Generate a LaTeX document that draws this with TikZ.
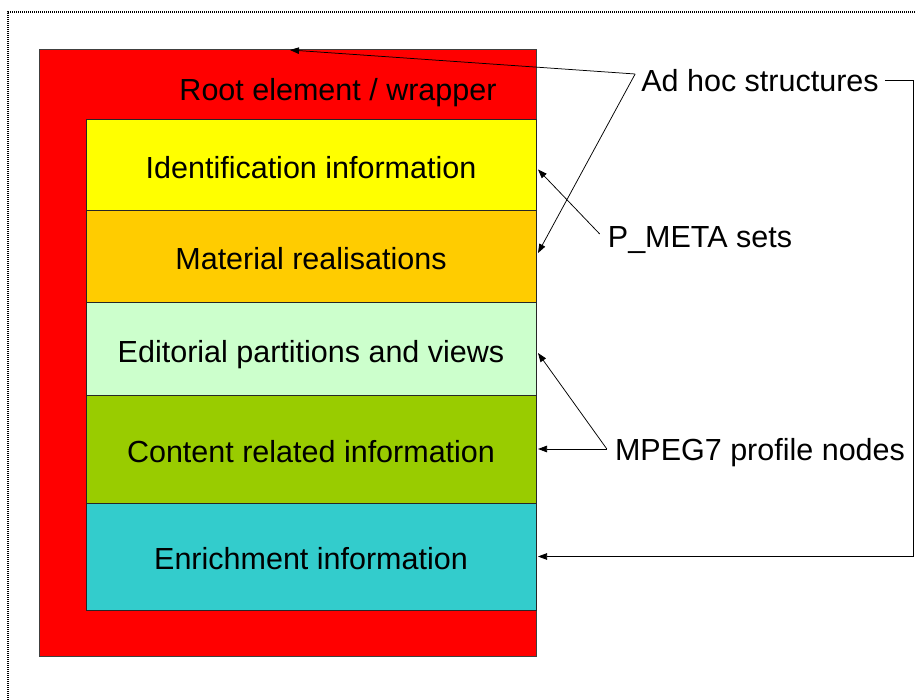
\documentclass[tikz,border=0pt]{standalone}
\usepackage{fontspec}
\setmainfont{Liberation Sans}
\usetikzlibrary{positioning,arrows.meta,calc}

\begin{document}
\begin{tikzpicture}[
  x=1pt, y=-1pt,
  txt/.style={font=\fontsize{30.5}{36}\selectfont, inner sep=3pt},
  layer/.style={draw=black!85, line width=1pt, minimum width=450pt, minimum height=#1, inner sep=0pt, outer sep=0pt, text height=26pt, text depth=0pt, txt},
  arr/.style={-{Triangle[length=9pt,width=6.5pt]}, line width=0.75pt}
]
\useasboundingbox (0,0) rectangle (915,700);
\draw[black, line width=1.5pt, dash pattern=on 1pt off 1pt] (915,12) -- (8,12) -- (8,700);

% wrapper and the stacked layers
\node[draw=black!75, line width=1pt, fill=red, minimum width=497pt, minimum height=606pt, anchor=north west, outer sep=0pt] (root) at (39,50) {};
\node[txt] (roottxt) at (338,93) {Root element / wrapper};

\node[layer=91pt, fill={rgb,255:red,255;green,255;blue,0}, anchor=north west] (ident) at (86,120) {Identification information};
\node[layer=92pt, fill={rgb,255:red,255;green,204;blue,0}, below=0pt of ident] (material) {Material realisations};
\node[layer=92pt, fill={rgb,255:red,204;green,255;blue,204}, below=0pt of material] (editorial) {Editorial partitions and views};
\node[layer=108pt, fill={rgb,255:red,153;green,204;blue,0}, below=0pt of editorial] (content) {Content related information};
\node[layer=107pt, fill={rgb,255:red,51;green,204;blue,204}, below=0pt of content] (enrich) {Enrichment information};

% labels on the right
\node[txt] (adhoc) at (760,81) {Ad hoc structures};
\node[txt] (pmeta) at (700,240) {P\_META sets};
\node[txt] (mpeg) at (760,453) {MPEG7 profile nodes};

\coordinate (adhocpt) at ($(adhoc.west)+(-3,-7)$);
\coordinate (pmetapt) at ($(pmeta.west)+(-5,-6)$);
\coordinate (mpegpt) at ($(mpeg.west)+(-5,-4)$);

\draw[arr] (adhocpt) -- ($(root.north west)!0.505!(root.north east)$);
\draw[arr] (adhocpt) -- ($(material.east)+(2,-4)$);
\draw[arr] (adhoc.east) ++(3,-1) -- ++(28,0) |- ($(enrich.east)+(2,0)$);
\draw[arr] (pmetapt) -- ($(ident.east)+(2,4)$);
\draw[arr] (mpegpt) -- ($(editorial.east)+(2,4)$);
\draw[arr] (mpegpt) -- ($(content.east)+(2,0)$);
\end{tikzpicture}
\end{document}
